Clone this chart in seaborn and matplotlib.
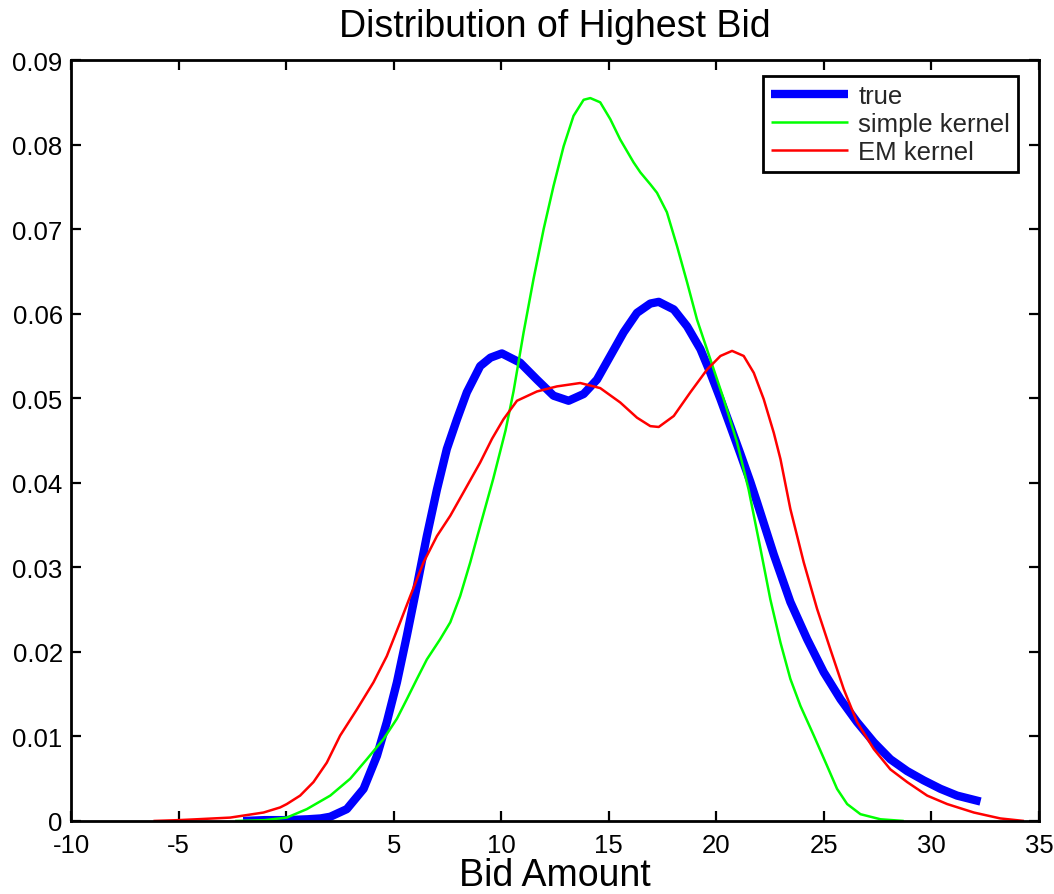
import matplotlib
matplotlib.use("Agg")
import matplotlib.pyplot as plt
import seaborn as sns

# true density
true_x = [-2.0, -1.0, 0.0, 1.0, 1.6, 2.05, 2.82, 3.6, 4.22, 4.68, 5.15, 5.61, 6.08,
          6.54, 7.01, 7.47, 7.94, 8.4, 9.02, 9.5, 10.03, 10.88, 11.66, 12.43, 13.13,
          13.83, 14.45, 15.07, 15.69, 16.31, 16.93, 17.32, 18.02, 18.64, 19.26, 19.72,
          20.19, 20.65, 21.12, 21.58, 21.89, 22.67, 23.44, 24.22, 24.99, 25.77, 26.54,
          27.32, 28.09, 28.87, 29.64, 30.42, 31.19, 32.28]
true_y = [0.0, 0.0001, 0.0001, 0.0002, 0.0003, 0.0005, 0.0014, 0.0038, 0.0077, 0.0117,
          0.0164, 0.0219, 0.0278, 0.0337, 0.0392, 0.044, 0.0475, 0.0507, 0.0538, 0.0548,
          0.0553, 0.0542, 0.0522, 0.0503, 0.0497, 0.0505, 0.0522, 0.055, 0.0578, 0.0601,
          0.0612, 0.0614, 0.0605, 0.0585, 0.0558, 0.053, 0.0499, 0.0467, 0.0434, 0.0401,
          0.0377, 0.0315, 0.0259, 0.0215, 0.0176, 0.0144, 0.0117, 0.0093, 0.0073, 0.0059,
          0.0048, 0.0038, 0.003, 0.0023]

# simple kernel estimate
simple_x = [-2.37, -1.0, 0.03, 0.96, 2.05, 2.98, 3.75, 4.53, 5.15, 5.61, 6.08, 6.54,
            7.16, 7.63, 8.09, 8.56, 9.02, 9.63, 10.2, 10.57, 11.04, 11.5, 11.97, 12.43,
            12.9, 13.36, 13.83, 14.14, 14.6, 15.07, 15.53, 16.15, 16.47, 16.93, 17.24,
            17.7, 18.17, 18.64, 19.1, 19.72, 20.34, 20.96, 21.5, 22.05, 22.51, 22.98,
            23.44, 23.91, 24.53, 25.15, 25.61, 26.08, 26.7, 27.63, 28.71]
simple_y = [0.0, 0.0001, 0.0004, 0.0014, 0.003, 0.005, 0.0073, 0.0097, 0.0121, 0.0144,
            0.0168, 0.0191, 0.0215, 0.0235, 0.0266, 0.0306, 0.0349, 0.0405, 0.0462,
            0.0508, 0.0578, 0.0641, 0.07, 0.0751, 0.0798, 0.0834, 0.0853, 0.0855, 0.085,
            0.083, 0.0806, 0.0779, 0.0767, 0.0753, 0.0743, 0.072, 0.068, 0.0637, 0.0593,
            0.0546, 0.0499, 0.0448, 0.0392, 0.0322, 0.0262, 0.0211, 0.0168, 0.0136,
            0.0101, 0.0065, 0.0038, 0.002, 0.0008, 0.0002, 0.0]

# EM kernel estimate
em_x = [-6.17, -5.0, -4.16, -2.6, -1.05, -0.28, 0.03, 0.65, 1.27, 1.89, 2.51, 3.29,
        4.06, 4.68, 5.3, 5.77, 6.39, 7.01, 7.63, 8.25, 9.02, 9.57, 10.1, 10.73, 11.66,
        12.59, 13.67, 14.6, 15.53, 16.31, 16.93, 17.32, 18.02, 18.79, 19.57, 20.19,
        20.73, 21.27, 21.74, 22.2, 22.67, 22.98, 23.44, 24.06, 24.68, 25.3, 25.92,
        26.54, 27.32, 28.09, 28.87, 29.8, 30.73, 31.97, 33.2, 34.3]
em_y = [0.0, 0.0001, 0.0002, 0.0004, 0.001, 0.0016, 0.002, 0.003, 0.0046, 0.0069,
        0.0101, 0.0132, 0.0164, 0.0195, 0.0235, 0.0266, 0.0306, 0.0337, 0.0361, 0.0389,
        0.0424, 0.0452, 0.0475, 0.0497, 0.0508, 0.0514, 0.0518, 0.0512, 0.0495, 0.0477,
        0.0467, 0.0466, 0.0479, 0.0507, 0.0534, 0.055, 0.0556, 0.055, 0.053, 0.0499,
        0.0459, 0.0428, 0.0369, 0.0306, 0.0251, 0.0203, 0.0156, 0.0117, 0.0085, 0.0061,
        0.0046, 0.003, 0.002, 0.001, 0.0003, 0.0]

x_ticks = [-10, -5, 0, 5, 10, 15, 20, 25, 30, 35]
y_ticks = [0, 0.01, 0.02, 0.03, 0.04, 0.05, 0.06, 0.07, 0.08, 0.09]
y_labels = ["0", "0.01", "0.02", "0.03", "0.04", "0.05", "0.06", "0.07", "0.08", "0.09"]

sns.set_theme(style="ticks")
plt.rcParams["font.family"] = ["Liberation Sans", "DejaVu Sans"]
plt.rcParams["axes.unicode_minus"] = False

fig = plt.figure(figsize=(10.54, 8.95), dpi=100)
ax = fig.add_axes([0.0674, 0.0816, 0.9184, 0.8502])

line_kw = dict(sort=False, ax=ax, solid_joinstyle="round", solid_capstyle="butt")
sns.lineplot(x=true_x, y=true_y, color="#0000ff", linewidth=6.0, label="true", **line_kw)
sns.lineplot(x=simple_x, y=simple_y, color="#00ff00", linewidth=1.8,
             label="simple kernel", **line_kw)
sns.lineplot(x=em_x, y=em_y, color="#ff0000", linewidth=1.8, label="EM kernel", **line_kw)

ax.set_xlim(-10, 35)
ax.set_ylim(0, 0.09)
ax.set_xticks(x_ticks)
ax.set_xticklabels([str(t) for t in x_ticks])
ax.set_yticks(y_ticks)
ax.set_yticklabels(y_labels)
ax.tick_params(direction="in", length=7, width=1.6, labelsize=18.5,
               top=True, right=True, color="black", labelcolor="black")
ax.tick_params(axis="x", pad=9)
ax.tick_params(axis="y", pad=6)
for s in ax.spines.values():
    s.set_visible(True)
    s.set_linewidth(2.0)
    s.set_color("black")

ax.set_title("Distribution of Highest Bid", fontsize=27, color="black", pad=17)
ax.set_xlabel("Bid Amount", fontsize=27, color="black", labelpad=0)
ax.set_ylabel("")

leg = ax.legend(loc="upper right", bbox_to_anchor=(0.978, 0.979), fontsize=18.5,
                handlelength=3.0, frameon=True, fancybox=False, borderpad=0.3,
                labelspacing=0.17, handletextpad=0.4, borderaxespad=0)
leg.get_frame().set_edgecolor("black")
leg.get_frame().set_linewidth(2.0)
leg.get_frame().set_alpha(1)

fig.savefig("out.png", dpi=100)
